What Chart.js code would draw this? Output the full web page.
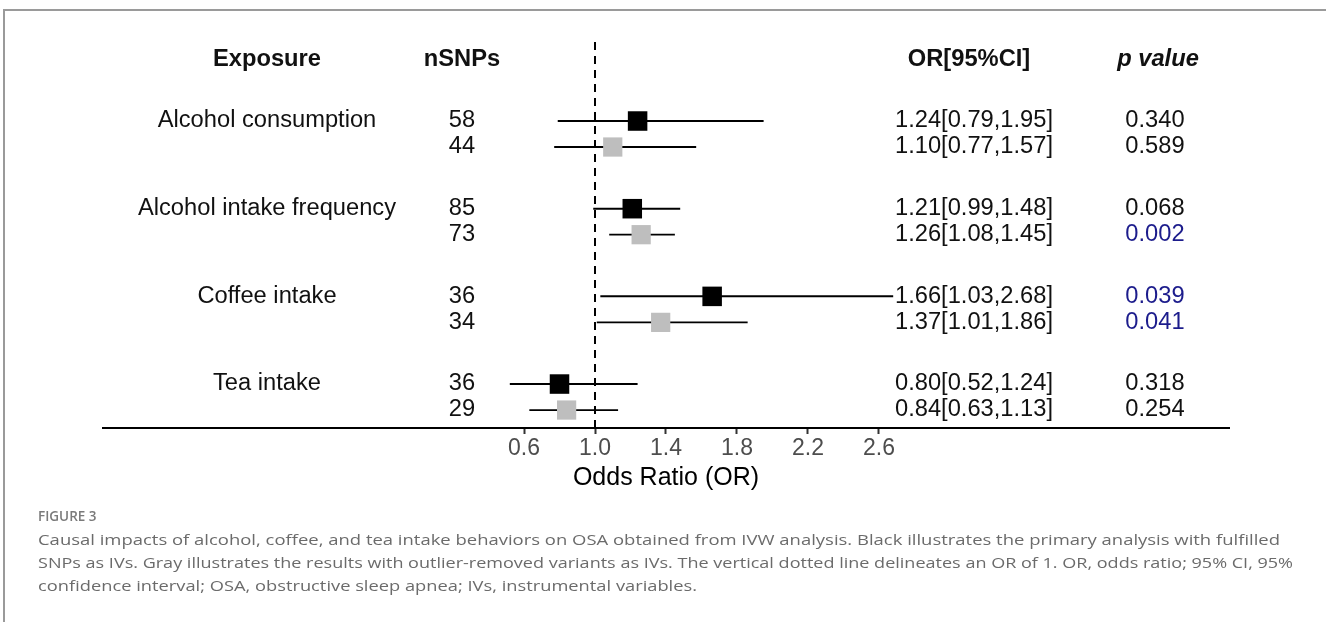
<!DOCTYPE html>
<html><head><meta charset="utf-8">
<script src="https://cdn.jsdelivr.net/npm/chart.js@4.4.1/dist/chart.umd.min.js"></script>
<style>html,body{margin:0;padding:0;background:#fff;overflow:hidden}canvas{display:block}</style>
</head><body>
<canvas id="c" width="1326" height="622"></canvas>
<script>
// ---------------- data ----------------
const exposures = ['Alcohol consumption', 'Alcohol intake frequency', 'Coffee intake', 'Tea intake'];
const nsnpPrimary = [58, 85, 36, 36];
const nsnpOutlier = [44, 73, 34, 29];
const orPrimary   = [1.24, 1.21, 1.66, 0.80];
const lowPrimary  = [0.79, 0.99, 1.03, 0.52];
const highPrimary = [1.95, 1.48, 2.68, 1.24];
const orOutlier   = [1.10, 1.26, 1.37, 0.84];
const lowOutlier  = [0.77, 1.08, 1.01, 0.63];
const highOutlier = [1.57, 1.45, 1.86, 1.13];
const pPrimary    = [0.340, 0.068, 0.039, 0.318];
const pOutlier    = [0.589, 0.002, 0.041, 0.254];
const xTicks      = [0.6, 1.0, 1.4, 1.8, 2.2, 2.6];
const refOR       = 1;
const headers     = ['Exposure', 'nSNPs', 'OR[95%CI]', 'p value'];
const xTitle      = 'Odds Ratio (OR)';
const captionLabel = 'FIGURE 3';
const captionLines = [
  'Causal impacts of alcohol, coffee, and tea intake behaviors on OSA obtained from IVW analysis. Black illustrates the primary analysis with fulfilled',
  'SNPs as IVs. Gray illustrates the results with outlier-removed variants as IVs. The vertical dotted line delineates an OR of 1. OR, odds ratio; 95% CI, 95%',
  'confidence interval; OSA, obstructive sleep apnea; IVs, instrumental variables.'
];

// ---------------- layout / style ----------------
const X_MIN = -1.772, X_MAX = 4.572;
const Y_MIN = -3.04, Y_MAX = 11.81;
const GROUP_STEP = 3.373;
const HEADER_ROW = -2.35;
const rowPrimary = g => g * GROUP_STEP;
const rowOutlier = g => g * GROUP_STEP + 1;
const BLACK = '#000000', GRAY = '#bebebe', SIG = '#1c1c8c', TXT = '#111111';
const SX = 1.03;
const FONT = '"Liberation Sans", Arial, Helvetica, sans-serif';
const COL = { exposure: 267, nsnp: 462, orText: 974, orHeader: 969, p: 1155, pHeader: 1158 };

Chart.defaults.font.family = FONT;

const datasets = [];
exposures.forEach((_, g) => {
  datasets.push({ type: 'line', data: [{x: lowPrimary[g], y: rowPrimary(g)}, {x: highPrimary[g], y: rowPrimary(g)}],
    borderColor: BLACK, borderWidth: 2, pointRadius: 0, order: 2 });
  datasets.push({ type: 'line', data: [{x: lowOutlier[g], y: rowOutlier(g)}, {x: highOutlier[g], y: rowOutlier(g)}],
    borderColor: BLACK, borderWidth: 1.8, pointRadius: 0, order: 2 });
});
datasets.push({ type: 'line', data: [{x: refOR, y: Y_MIN}, {x: refOR, y: Y_MAX}],
  borderColor: BLACK, borderWidth: 2, borderDash: [8, 6], pointRadius: 0, order: 3 });
datasets.push({ type: 'scatter', data: orOutlier.map((v, g) => ({x: v, y: rowOutlier(g)})),
  pointStyle: 'rect', pointRadius: 13.6, backgroundColor: GRAY, borderWidth: 0, order: 0 });
datasets.push({ type: 'scatter', data: orPrimary.map((v, g) => ({x: v, y: rowPrimary(g)})),
  pointStyle: 'rect', pointRadius: 13.8, backgroundColor: BLACK, borderWidth: 0, order: 0 });

function txt(ctx, s, x, y, font, color, align, sx) {
  ctx.save();
  ctx.font = font; ctx.fillStyle = color; ctx.textBaseline = 'middle'; ctx.textAlign = align;
  ctx.translate(x, y); ctx.scale(sx || SX, 1);
  ctx.fillText(s, 0, 0);
  ctx.restore();
}
function fitText(ctx, s, x, y, font, color, targetRight) {
  ctx.save();
  ctx.font = font;
  const w = ctx.measureText(s).width;
  const sx = (targetRight - x) / w;
  ctx.restore();
  txt(ctx, s, x, y, font, color, 'left', sx);
}

const tablePlugin = {
  id: 'table',
  afterDraw(chart) {
    const ctx = chart.ctx, ys = chart.scales.y;
    // frame
    ctx.save();
    ctx.strokeStyle = '#9a9a9a'; ctx.lineWidth = 2;
    ctx.beginPath(); ctx.moveTo(4, 622); ctx.lineTo(4, 10); ctx.lineTo(1326, 10); ctx.stroke();
    ctx.restore();
    // headers
    const hy = ys.getPixelForValue(HEADER_ROW);
    const hb = 'bold 23px ' + FONT;
    txt(ctx, headers[0], COL.exposure, hy, hb, TXT, 'center');
    txt(ctx, headers[1], COL.nsnp, hy, hb, TXT, 'center');
    txt(ctx, headers[2], COL.orHeader, hy, hb, TXT, 'center');
    txt(ctx, headers[3], COL.pHeader, hy, 'italic bold 23px ' + FONT, TXT, 'center');
    const f = '23px ' + FONT;
    exposures.forEach((name, g) => {
      const y1 = ys.getPixelForValue(rowPrimary(g)), y2 = ys.getPixelForValue(rowOutlier(g));
      txt(ctx, name, COL.exposure, y1, f, TXT, 'center');
      txt(ctx, String(nsnpPrimary[g]), COL.nsnp, y1, f, TXT, 'center');
      txt(ctx, String(nsnpOutlier[g]), COL.nsnp, y2, f, TXT, 'center');
      txt(ctx, `${orPrimary[g].toFixed(2)}[${lowPrimary[g].toFixed(2)},${highPrimary[g].toFixed(2)}]`, COL.orText, y1, f, TXT, 'center');
      txt(ctx, `${orOutlier[g].toFixed(2)}[${lowOutlier[g].toFixed(2)},${highOutlier[g].toFixed(2)}]`, COL.orText, y2, f, TXT, 'center');
      txt(ctx, pPrimary[g].toFixed(3), COL.p, y1, f, pPrimary[g] < 0.05 ? SIG : TXT, 'center');
      txt(ctx, pOutlier[g].toFixed(3), COL.p, y2, f, pOutlier[g] < 0.05 ? SIG : TXT, 'center');
    });
    // caption
    txt(ctx, captionLabel, 38, 517, '600 13.5px "Open Sans", sans-serif', '#7a7a7a', 'left', 1);
    const cf = '15px "Open Sans", sans-serif';
    const rights = [1280, 1293, 697];
    captionLines.forEach((s, i) => fitText(ctx, s, 38, 541 + i * 23, cf, '#6b6b6b', rights[i]));
  }
};

new Chart(document.getElementById('c'), {
  type: 'scatter',
  data: { datasets },
  options: {
    responsive: false, animation: false, devicePixelRatio: 1,
    layout: { padding: { left: 103, right: 97, top: 42, bottom: 124 } },
    plugins: { legend: { display: false }, tooltip: { enabled: false } },
    scales: {
      x: {
        type: 'linear', position: 'bottom', min: X_MIN, max: X_MAX,
        afterBuildTicks: s => { s.ticks = xTicks.map(v => ({ value: v })); },
        afterFit: s => { s.height = 70; },
        border: { display: true, color: '#000', width: 2 },
        grid: { display: true, drawOnChartArea: false, drawTicks: true, tickLength: 6, tickColor: '#333', tickWidth: 2 },
        ticks: { autoSkip: false, maxRotation: 0, padding: 1, color: '#4d4d4d', font: { size: 23 },
          callback: v => Number(v).toFixed(1) },
        title: { display: true, text: xTitle, color: '#000', font: { size: 25 }, padding: { top: 0, bottom: 5 } }
      },
      y: { type: 'linear', reverse: true, min: Y_MIN, max: Y_MAX, display: false }
    }
  },
  plugins: [tablePlugin]
});
</script>
</body></html>
